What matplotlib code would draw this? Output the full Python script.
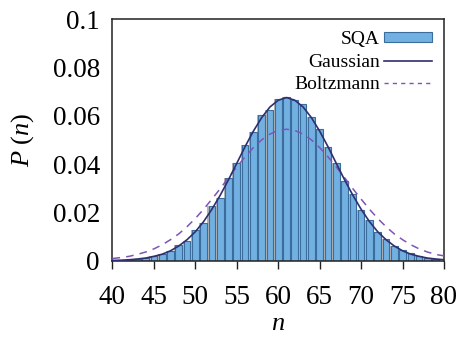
import matplotlib
matplotlib.use("Agg")
import matplotlib.pyplot as plt
from matplotlib.patches import Patch
from matplotlib.lines import Line2D
from matplotlib.ticker import FuncFormatter

plt.rcParams["font.family"] = ["Liberation Serif", "DejaVu Serif"]
plt.rcParams["mathtext.fontset"] = "custom"
plt.rcParams["mathtext.rm"] = "Liberation Serif"
plt.rcParams["mathtext.it"] = "Liberation Serif:italic"

# %% data

n_bars = list(range(41, 80))
sqa = [0.0003, 0.0005, 0.0008, 0.0011, 0.0018, 0.0028, 0.0041, 0.0064, 0.0080,
       0.0127, 0.0155, 0.0226, 0.0258, 0.0341, 0.0403, 0.0479, 0.0531, 0.0601,
       0.0623, 0.0670, 0.0678, 0.0665, 0.0648, 0.0595, 0.0545, 0.0472, 0.0403,
       0.0329, 0.0277, 0.0210, 0.0168, 0.0120, 0.0088, 0.0060, 0.0043, 0.0030,
       0.0018, 0.0013, 0.0009]

n_curve = list(range(40, 81))
gaussian = [0.0001, 0.0002, 0.0004, 0.0007, 0.0011, 0.0018, 0.0027, 0.0041,
            0.0061, 0.0087, 0.0120, 0.0162, 0.0213, 0.0271, 0.0335, 0.0403,
            0.0472, 0.0536, 0.0592, 0.0636, 0.0664, 0.0675, 0.0664, 0.0636,
            0.0592, 0.0536, 0.0472, 0.0403, 0.0335, 0.0271, 0.0213, 0.0162,
            0.0120, 0.0087, 0.0061, 0.0041, 0.0027, 0.0018, 0.0011, 0.0007,
            0.0004]
boltzmann = [0.0009, 0.0013, 0.0018, 0.0026, 0.0036, 0.0049, 0.0066, 0.0087,
             0.0111, 0.0141, 0.0175, 0.0213, 0.0255, 0.0298, 0.0344, 0.0388,
             0.0430, 0.0468, 0.0500, 0.0524, 0.0539, 0.0544, 0.0539, 0.0524,
             0.0500, 0.0468, 0.0430, 0.0388, 0.0344, 0.0298, 0.0255, 0.0213,
             0.0175, 0.0141, 0.0111, 0.0087, 0.0066, 0.0049, 0.0036, 0.0026,
             0.0020]

x_ticks = [40, 45, 50, 55, 60, 65, 70, 75, 80]
y_ticks = [0, 0.02, 0.04, 0.06, 0.08, 0.1]

# %% figure

bar_fill = "#72b0e2"
bar_edge = "#3a6c9c"
gauss_col = "#2f2f70"
boltz_col = "#7d55b8"

fig = plt.figure(figsize=(4.58, 3.40), dpi=100)
ax = fig.add_axes([0.2456, 0.2332, 0.7238, 0.7109])

# grey shadow behind every bar, then the blue bars
ax.bar([n - 0.14 for n in n_bars], sqa, width=0.8, color="#b4b4b4",
       linewidth=0, zorder=1)
ax.bar(n_bars, sqa, width=0.8, color=bar_fill, edgecolor=bar_edge,
       linewidth=0.8, zorder=2)
ax.plot(n_curve, gaussian, color=gauss_col, lw=1.2, zorder=4)
ax.plot(n_curve, boltzmann, color=boltz_col, lw=1.1, ls=(0, (5, 4)),
        zorder=3)

ax.set_xlim(40, 80)
ax.set_ylim(0, 0.1)
ax.set_xticks(x_ticks)
ax.set_yticks(y_ticks)
ax.yaxis.set_major_formatter(FuncFormatter(lambda v, _: f"{v:g}"))
ax.tick_params(axis="x", direction="out", length=5.5, width=1.0,
               pad=12, labelsize=19.5, color="#222222")
ax.tick_params(axis="y", length=0, pad=9, labelsize=19.5)
for spine in ax.spines.values():
    spine.set_linewidth(1.1)
    spine.set_color("#222222")

ax.set_xlabel("$n$", fontsize=19, labelpad=2)
ax.set_ylabel(r"$P\ (n)$", fontsize=19, labelpad=12)

handles = [
    Patch(facecolor=bar_fill, edgecolor=bar_edge, linewidth=0.8),
    Line2D([], [], color=gauss_col, lw=1.2),
    Line2D([], [], color=boltz_col, lw=1.0, ls=(0, (3, 3))),
]
ax.legend(handles, ["SQA", "Gaussian", "Boltzmann"], loc="upper right",
          frameon=False, markerfirst=False, fontsize=14,
          handlelength=2.5, handleheight=0.4, handletextpad=0.2,
          labelspacing=0.3, borderpad=0, borderaxespad=0.6)

fig.savefig("out.png", dpi=100)
